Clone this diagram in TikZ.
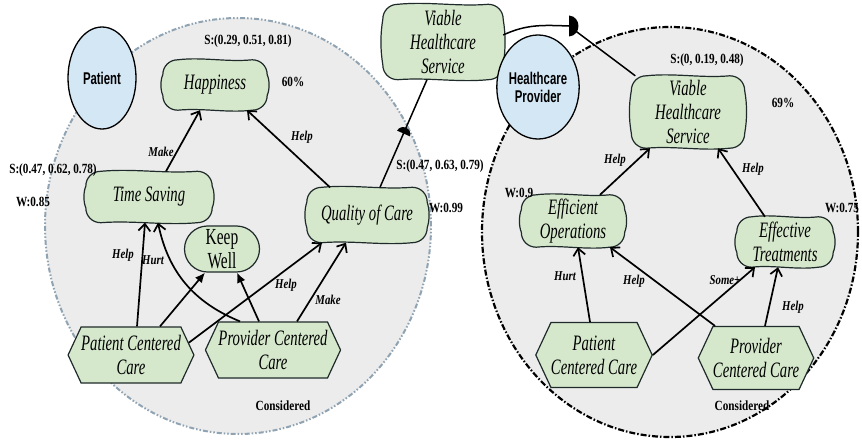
\documentclass[tikz,border=0pt]{standalone}
\usepackage{fontspec}
\setmainfont{Liberation Serif}
\newfontfamily\goalfont[FakeStretch=0.67]{Liberation Serif}
\newfontfamily\tagfont[FakeStretch=0.8]{Liberation Serif}
\newfontfamily\actorfont[FakeStretch=0.67]{Liberation Sans}
\usetikzlibrary{shapes.geometric,shapes.misc,shapes.symbols,arrows.meta,calc}
\pgfdeclarelayer{back}
\pgfdeclarelayer{mid}
\pgfsetlayers{back,mid,main}

\definecolor{goalgreen}{HTML}{D5E8CC}
\definecolor{actorblue}{HTML}{D4E7F5}
\definecolor{boundgray}{HTML}{ECECEC}
\definecolor{patline}{HTML}{8FA3B3}
\definecolor{edgeink}{HTML}{1F2A2A}

\tikzset{
  actor/.style={ellipse, draw=black, line width=1.3pt, fill=actorblue, inner sep=0pt,
    align=center, font={\actorfont\bfseries\fontsize{17}{18}\selectfont}},
  softgoal/.style={inner sep=0pt, align=center,
    font={\goalfont\itshape\fontsize{22}{24}\selectfont}},
  sgrim/.style={draw=edgeink, line width=1.2pt, fill=goalgreen},
  hexgoal/.style={shape=signal, signal to=east and west, signal pointer angle=130,
    draw=edgeink, line width=1.2pt, fill=goalgreen, inner sep=0pt, align=center,
    font={\goalfont\itshape\fontsize{22}{24}\selectfont}},
  hardgoal/.style={rounded rectangle, draw=edgeink, line width=1.2pt, fill=goalgreen,
    inner sep=0pt, align=center, font={\goalfont\fontsize{23}{24}\selectfont}},
  contrib/.style={draw=black, line width=1.7pt, -{Straight Barb[length=7pt,width=12pt]}},
  fullhead/.style={draw=black, line width=1.7pt, -{Latex[length=10pt,width=9pt]}},
  dep/.style={draw=black, line width=1.5pt},
  lbl/.style={inner sep=0pt, font={\tagfont\bfseries\itshape\fontsize{13.5}{15}\selectfont}},
  info/.style={inner sep=0pt, font={\tagfont\bfseries\fontsize{14}{15}\selectfont}},
  patbound/.style={draw=patline, fill=boundgray, line width=2pt,
    dash pattern=on 5pt off 2pt on 1.5pt off 2pt on 1.5pt off 2pt},
  provbound/.style={draw=black, fill=boundgray, line width=2.2pt,
    dash pattern=on 6pt off 2pt on 1.5pt off 2pt},
  dmark/.pic={\fill[black] (0,10) .. controls (12,9) and (12,-9) .. (0,-10) -- cycle;}
}

% wavy rounded outline of a softgoal, drawn around a named node
\newcommand\softgoalrim[1]{%
  \path[sgrim]
    ($(#1.north west)+(15,0)$)
    .. controls ($(#1.north west)!0.38!(#1.north east)+(0,3)$)
       and ($(#1.north west)!0.62!(#1.north east)+(0,-2.5)$) .. ($(#1.north east)+(-15,0)$)
    .. controls ($(#1.north east)+(-6.5,0)$) and ($(#1.north east)+(0,-6.5)$) .. ($(#1.north east)+(0,-15)$)
    .. controls ($(#1.north east)!0.4!(#1.south east)+(2.5,0)$)
       and ($(#1.north east)!0.6!(#1.south east)+(2.5,0)$) .. ($(#1.south east)+(0,15)$)
    .. controls ($(#1.south east)+(0,6.5)$) and ($(#1.south east)+(-6.5,0)$) .. ($(#1.south east)+(-15,0)$)
    .. controls ($(#1.south west)!0.62!(#1.south east)+(0,-3)$)
       and ($(#1.south west)!0.38!(#1.south east)+(0,2.5)$) .. ($(#1.south west)+(15,0)$)
    .. controls ($(#1.south west)+(6.5,0)$) and ($(#1.south west)+(0,6.5)$) .. ($(#1.south west)+(0,15)$)
    .. controls ($(#1.north west)!0.6!(#1.south west)+(-2.5,0)$)
       and ($(#1.north west)!0.4!(#1.south west)+(-2.5,0)$) .. ($(#1.north west)+(0,-15)$)
    .. controls ($(#1.north west)+(0,-6.5)$) and ($(#1.north west)+(6.5,0)$) .. ($(#1.north west)+(15,0)$)
    -- cycle;}

\begin{document}
\begin{tikzpicture}[x=1pt,y=1pt]
\useasboundingbox (0,0) rectangle (862,-441);

% actor boundaries
\begin{pgfonlayer}{back}
  \path[patbound] (238,-226) ellipse [x radius=193, y radius=208];
  \path[provbound] (670,-232) ellipse [x radius=188, y radius=205];
\end{pgfonlayer}

% actors
\node[actor, minimum width=68, minimum height=102] (pat) at (102,-78) {Patient};
\node[actor, minimum width=68, minimum height=104] (hp) at (538,-87) {Healthcare\\Provider};

% patient side
\node[softgoal, minimum width=104, minimum height=50] (hap) at (215,-85) {Happiness};
\node[softgoal, minimum width=126, minimum height=51] (ts) at (149,-197) {Time Saving};
\node[softgoal, minimum width=120, minimum height=55] (qoc) at (367,-215) {Quality of Care};
\node[hardgoal, minimum width=75, minimum height=46] (kw) at (222,-249) {Keep\\Well};
\node[hexgoal, minimum width=124, minimum height=56] (pcc1) at (131,-355) {Patient Centered\\Care};
\node[hexgoal, minimum width=135, minimum height=56] (prc1) at (273,-350) {Provider Centered\\Care};

% dependum between the actors
\node[softgoal, minimum width=120, minimum height=75] (vhso) at (443,-42) {Viable\\Healthcare\\Service};

% provider side
\node[softgoal, minimum width=113, minimum height=72] (vhsi) at (688,-112) {Viable\\Healthcare\\Service};
\node[softgoal, minimum width=103, minimum height=52] (eo) at (573,-221) {Efficient\\Operations};
\node[softgoal, minimum width=96, minimum height=50] (et) at (785,-242) {Effective\\Treatments};
\node[hexgoal, minimum width=115, minimum height=65] (pcc2) at (594,-355) {Patient\\Centered Care};
\node[hexgoal, minimum width=108, minimum height=63] (prc2) at (756,-358) {Provider\\Centered Care};

% softgoal outlines
\begin{pgfonlayer}{mid}
  \softgoalrim{hap}
  \softgoalrim{ts}
  \softgoalrim{qoc}
  \softgoalrim{vhso}
  \softgoalrim{vhsi}
  \softgoalrim{eo}
  \softgoalrim{et}
\end{pgfonlayer}

% patient contributions
\draw[contrib] ([xshift=17]ts.north) -- ([xshift=-15]hap.south);
\draw[contrib] ([xshift=-37]qoc.north) -- ([xshift=32]hap.south);
\draw[contrib] ([xshift=6]pcc1.north) -- ([xshift=-4]ts.south);
\draw[contrib] ([xshift=-33]prc1.north) to[bend left=28] ([xshift=9]ts.south);
\draw[fullhead] ([xshift=29]pcc1.north) -- ([xshift=-17]kw.south);
\draw[fullhead] ([xshift=-14]prc1.north) -- ([xshift=15]kw.south);
\draw[contrib] (pcc1.12) -- ([xshift=-45]qoc.south);
\draw[contrib] ([xshift=24]prc1.north) -- ([xshift=-21]qoc.south);

% provider contributions
\draw[contrib] ([xshift=27]eo.north) -- ([xshift=-38]vhsi.south);
\draw[contrib] ([xshift=-20]et.north) -- ([xshift=30]vhsi.south);
\draw[contrib] ([xshift=-4]pcc2.north) -- ([xshift=5]eo.south);
\draw[contrib] ([xshift=-41]prc2.north) -- ([xshift=37]eo.south);
\draw[contrib] (pcc2.east) -- ([xshift=-30]et.south);
\draw[contrib] ([xshift=9]prc2.north) -- ([xshift=-7]et.south);

% dependency links
\draw[dep] ([xshift=13]qoc.north) -- coordinate[pos=0.5] (dm1) ([xshift=-16]vhso.south);
\pic[rotate=66, scale=0.7] at (dm1) {dmark};
\coordinate (dm2) at (569,-26);
\draw[dep] ([yshift=7]vhso.east) to[out=25, in=178] (dm2) -- ([xshift=4]vhsi.north west);
\pic[scale=1.05] at (dm2) {dmark};

% link labels
\node[lbl] (l1) at (161,-152) {Make};
\node[lbl] (l2) at (302,-137) {Help};
\node[lbl] (l3) at (123,-255) {Help};
\node[lbl] (l4) at (153,-260) {Hurt};
\node[lbl] (l5) at (286,-285) {Help};
\node[lbl] (l6) at (328,-300) {Make};
\node[lbl] (l7) at (615,-160) {Help};
\node[lbl] (l8) at (753,-169) {Help};
\node[lbl] (l9) at (565,-276) {Hurt};
\node[lbl] (l10) at (634,-281) {Help};
\node[lbl] (l11) at (725,-280) {Some+};
\node[lbl] (l12) at (793,-307) {Help};

% evaluation annotations
\node[info] (s1) at (248,-41) {S:(0.29, 0.51, 0.81)};
\node[info] (p1) at (293,-82) {60\%};
\node[info] (s2) at (53,-170) {S:(0.47, 0.62, 0.78)};
\node[info] (w1) at (33,-202) {W:0.85};
\node[info] (s3) at (440,-166) {S:(0.47, 0.63, 0.79)};
\node[info] (w2) at (446,-208) {W:0.99};
\node[info] (c1) at (283,-406) {Considered};
\node[info] (s4) at (707,-60) {S:(0, 0.19, 0.48)};
\node[info] (p2) at (783,-103) {69\%};
\node[info] (w3) at (519,-193) {W:0.9};
\node[info] (w4) at (842,-208) {W:0.75};
\node[info] (c2) at (742,-406) {Considered};
\end{tikzpicture}
\end{document}
